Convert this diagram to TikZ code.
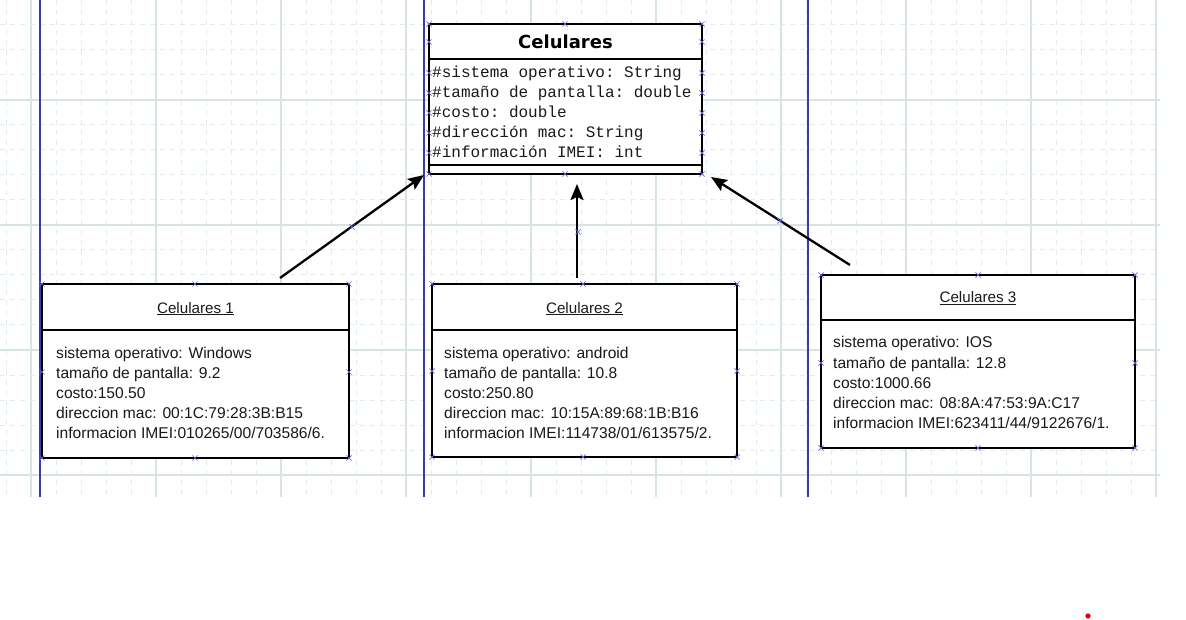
\documentclass[tikz,border=0pt]{standalone}
\usepackage{fontspec}
\setmainfont{Liberation Sans}
\setmonofont{Liberation Mono}
\newfontfamily\titlefont{DejaVu Sans}
\usetikzlibrary{shapes.misc,arrows.meta}
\definecolor{gridc}{HTML}{E2ECEC}
\definecolor{gridd}{HTML}{D8E4E4}
\definecolor{laneblue}{HTML}{3C3CA8}
\definecolor{handleblue}{HTML}{6A6AE0}
\definecolor{txt}{HTML}{1C1818}
\tikzset{
  gridthin/.style={draw=gridc,line width=1pt,dash pattern=on 5pt off 5pt},
  gridthick/.style={draw=gridd,line width=1.1pt},
  lane/.style={draw=laneblue,line width=1.4pt},
  umlbox/.style={draw=black,line width=2.4pt,fill=white},
  sepline/.style={draw=black,line width=2pt},
  handle/.style={cross out,draw=handleblue,line width=0.7pt,minimum size=4.5pt,inner sep=0pt},
  body/.style={anchor=base west,inner sep=0pt,font=\fontsize{15.6}{18}\selectfont,text=txt},
  objtitle/.style={anchor=base,inner sep=0pt,font=\fontsize{15.2}{18}\selectfont,text=txt},
  attr/.style={anchor=base west,inner sep=0pt,font=\ttfamily\fontsize{16}{18}\selectfont,text=txt},
  inherit/.style={draw=black,line width=2.3pt,-{Stealth[length=16pt,width=13pt,inset=3pt]}}
}
\begin{document}
\begin{tikzpicture}[x=1pt,y=-1pt]
\useasboundingbox (0,0) rectangle (1186,620);
% grid
\foreach \gx in {6,56,81,106,131,181,206,231,256,306,331,356,381,431,456,481,506,556,581,606,631,681,706,731,756,806,831,856,881,931,956,981,1006,1056,1081,1106,1131}
  \path[gridthin] (\gx,0) -- (\gx,497);
\foreach \gy in {0,25,50,75,125,150,175,200,250,275,300,325,375,400,425,450}
  \path[gridthin] (0,\gy) -- (1160,\gy);
\foreach \gx in {31,156,281,406,531,656,781,906,1031,1156}
  \path[gridthick] (\gx,0) -- (\gx,497);
\foreach \gy in {100,225,350,475}
  \path[gridthick] (0,\gy) -- (1160,\gy);
% lanes
\foreach \lx in {40,424,808}
  \path[lane] (\lx,0) -- (\lx,497);

% main class
\path[umlbox,line width=2.8pt] (429,24) rectangle (702,174);
\path[sepline] (429,59) -- (702,59);
\path[sepline] (429,165) -- (702,165);
\node[anchor=base,inner sep=0pt,font=\titlefont\bfseries\fontsize{18}{20}\selectfont] (cls) at (565.5,49) {Celulares};
\node[attr] (a1) at (432,78) {\#sistema operativo: String};
\node[attr] (a2) at (432,98) {\#tamaño de pantalla: double};
\node[attr] (a3) at (432,118) {\#costo: double};
\node[attr] (a4) at (432,138) {\#dirección mac: String};
\node[attr] (a5) at (432,158) {\#información IMEI: int};

% object 1
\path[umlbox] (42,284) rectangle (349,458);
\path[sepline] (42,330) -- (349,330);
\node[objtitle] (t1) at (195.5,313) {\underline{Celulares 1}};
\node[body] (b11) at (56,358) {sistema operativo: Windows};
\node[body] (b12) at (56,378) {tamaño de pantalla: 9.2};
\node[body] (b13) at (56,398) {costo:150.50};
\node[body] (b14) at (56,418) {direccion mac: 00:1C:79:28:3B:B15};
\node[body] (b15) at (56,438) {informacion IMEI:010265/00/703586/6.};

% object 2
\path[umlbox] (432,284) rectangle (737,457);
\path[sepline] (432,330) -- (737,330);
\node[objtitle] (t2) at (584.5,313) {\underline{Celulares 2}};
\node[body] (b21) at (444,358) {sistema operativo: android};
\node[body] (b22) at (444,378) {tamaño de pantalla: 10.8};
\node[body] (b23) at (444,398) {costo:250.80};
\node[body] (b24) at (444,418) {direccion mac: 10:15A:89:68:1B:B16};
\node[body] (b25) at (444,438) {informacion IMEI:114738/01/613575/2.};

% object 3
\path[umlbox] (821,275) rectangle (1135,448);
\path[sepline] (821,320) -- (1135,320);
\node[objtitle] (t3) at (978,303) {\underline{Celulares 3}};
\node[body] (b31) at (833,348) {sistema operativo: IOS};
\node[body] (b32) at (833,368) {tamaño de pantalla: 12.8};
\node[body] (b33) at (833,388) {costo:1000.66};
\node[body] (b34) at (833,408) {direccion mac: 08:8A:47:53:9A:C17};
\node[body] (b35) at (833,428) {informacion IMEI:623411/44/9122676/1.};

% connector end points
\coordinate (s1) at (280,278);
\coordinate (e1) at (424,175);
\coordinate (s2) at (577,278);
\coordinate (e2) at (577,184);
\coordinate (s3) at (850,265);
\coordinate (e3) at (711,177);
\draw[inherit] (s1) -- (e1);
\draw[inherit] (s2) -- (e2);
\draw[inherit] (s3) -- (e3);

% selection handles
\foreach \hx/\hy in {429/24,565/24,702/24,429/42,702/42,429/73,702/73,429/93,702/93,429/113,702/113,429/133,702/133,429/153,702/153,429/174,565/174,702/174,
  42/284,195/284,349/284,42/372,349/372,42/458,195/458,349/458,
  432/284,583/284,737/284,432/371,737/371,432/457,583/457,737/457,
  821/275,978/275,1135/275,821/363,1135/363,821/448,978/448,1135/448,
  352/227,578/232,780/221}
  \node[handle] at (\hx,\hy) {};

% red dot
\fill[red!90!black] (1088,616) circle (2.6);
\end{tikzpicture}
\end{document}
